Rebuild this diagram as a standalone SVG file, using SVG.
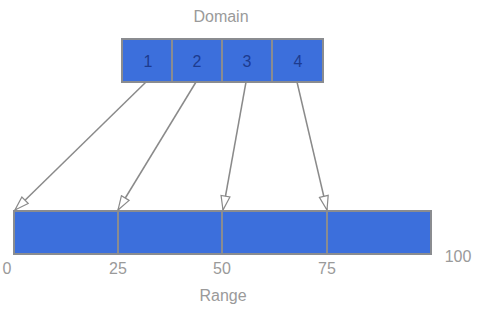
<svg xmlns="http://www.w3.org/2000/svg" width="477" height="309" viewBox="0 0 477 309">
<style>
.cell{fill:#3c6fdc;stroke:#8a8c90;stroke-width:2}
.lbl{font-family:"Liberation Sans",Arial,sans-serif;font-size:16px;fill:#9a9a9a;text-anchor:middle}
.num{font-family:"Liberation Sans",Arial,sans-serif;font-size:16px;fill:#1d3b8f;text-anchor:middle}
.conn{stroke:#8a8a8a;stroke-width:1.5;fill:none;marker-end:url(#ah)}
</style>
<defs>
<marker id="ah" viewBox="0 0 16 12" refX="15" refY="6" markerWidth="16" markerHeight="12" markerUnits="userSpaceOnUse" orient="auto">
<path d="M1,1.5 L15,6 L1,10.5 Z" fill="#ffffff" stroke="#8a8a8a" stroke-width="1.2"/>
</marker>
</defs>
<rect width="477" height="309" fill="#ffffff"/>
<text class="lbl" x="221" y="22">Domain</text>
<g id="domain">
<rect class="cell" x="122" y="39" width="50" height="43"/>
<rect class="cell" x="172" y="39" width="50" height="43"/>
<rect class="cell" x="222" y="39" width="50" height="43"/>
<rect class="cell" x="272" y="39" width="51" height="43"/>
<text class="num" x="148" y="67">1</text>
<text class="num" x="197" y="67">2</text>
<text class="num" x="247" y="67">3</text>
<text class="num" x="298" y="67">4</text>
</g>
<g id="range">
<rect class="cell" x="14" y="211" width="104" height="43"/>
<rect class="cell" x="118" y="211" width="104" height="43"/>
<rect class="cell" x="222" y="211" width="105" height="43"/>
<rect class="cell" x="327" y="211" width="104" height="43"/>
<text class="lbl" x="7" y="274">0</text>
<text class="lbl" x="118" y="274">25</text>
<text class="lbl" x="222" y="274">50</text>
<text class="lbl" x="327" y="274">75</text>
<text class="lbl" x="458" y="262">100</text>
<text class="lbl" x="223" y="301">Range</text>
</g>
<g id="connectors">
<line class="conn" x1="146" y1="82" x2="15" y2="210"/>
<line class="conn" x1="196" y1="82" x2="118" y2="210"/>
<line class="conn" x1="246" y1="82" x2="223" y2="210"/>
<line class="conn" x1="297" y1="82" x2="327" y2="210"/>
</g>
</svg>
